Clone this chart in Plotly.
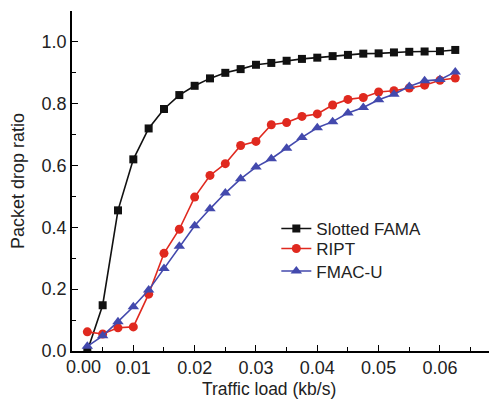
import plotly.graph_objects as go

# Traffic load (kb/s) sampled every 0.0025 kb/s
load = [0.0025 * i for i in range(1, 26)]

slotted_fama = [0.0, 0.148, 0.455, 0.62, 0.72, 0.783, 0.828, 0.858, 0.882, 0.90,
                0.912, 0.926, 0.932, 0.939, 0.945, 0.949, 0.954, 0.958, 0.962, 0.963,
                0.966, 0.968, 0.969, 0.970, 0.974]
ript = [0.062, 0.055, 0.075, 0.078, 0.184, 0.316, 0.394, 0.498, 0.568, 0.606,
        0.665, 0.678, 0.732, 0.739, 0.759, 0.767, 0.796, 0.814, 0.820, 0.838,
        0.842, 0.851, 0.860, 0.876, 0.883]
fmac_u = [0.015, 0.049, 0.095, 0.143, 0.197, 0.267, 0.339, 0.405, 0.46, 0.511,
          0.557, 0.595, 0.622, 0.656, 0.691, 0.722, 0.742, 0.770, 0.788, 0.813,
          0.831, 0.856, 0.874, 0.878, 0.903]

x_ticks = [0.01, 0.02, 0.03, 0.04, 0.05, 0.06]
x_minor = [0.005, 0.015, 0.025, 0.035, 0.045, 0.055, 0.065]
y_ticks = [0.0, 0.2, 0.4, 0.6, 0.8, 1.0]
y_minor = [0.1, 0.3, 0.5, 0.7, 0.9, 1.1]

FONT = "Liberation Sans, Arial, sans-serif"
TEXT = "#222222"
RED = "#e0291f"
BLUE = "#4349ad"

fig = go.Figure()
fig.add_trace(go.Scatter(x=load, y=slotted_fama, name="Slotted FAMA", mode="lines+markers",
                         line=dict(color="#111111", width=1.6),
                         marker=dict(symbol="square", size=8, color="#111111"),
                         legend="legend", showlegend=True))
fig.add_trace(go.Scatter(x=load, y=ript, name="RIPT", mode="lines+markers",
                         line=dict(color=RED, width=1.6),
                         marker=dict(symbol="circle", size=9, color=RED),
                         legend="legend2", showlegend=True))
fig.add_trace(go.Scatter(x=load, y=fmac_u, name="FMAC-U", mode="lines+markers",
                         line=dict(color=BLUE, width=1.6),
                         marker=dict(symbol="triangle-up", size=10, color=BLUE),
                         legend="legend3", showlegend=True))

axis_common = dict(showline=True, linecolor="black", linewidth=1.6,
                   ticks="inside", ticklen=6, tickwidth=1.4, tickcolor="black",
                   showgrid=False, zeroline=False, mirror=False,
                   tickfont=dict(family=FONT, size=18, color=TEXT))

fig.update_xaxes(range=[0, 0.068], tickvals=x_ticks, tickformat=".2f",
                 minor=dict(tickvals=x_minor, ticks="inside", ticklen=4,
                            tickwidth=1.4, tickcolor="black"),
                 **axis_common)
fig.update_yaxes(range=[0, 1.1], tickvals=y_ticks, tickformat=".1f",
                 minor=dict(tickvals=y_minor, ticks="inside", ticklen=4,
                            tickwidth=1.4, tickcolor="black"),
                 title=dict(text="Packet drop ratio", standoff=12,
                            font=dict(family=FONT, size=18, color=TEXT)),
                 **axis_common)

# x-axis title, set slightly left of the plot centre
fig.add_annotation(x=0.0322, y=0, xref="x", yref="paper", text="Traffic load (kb/s)",
                   showarrow=False, xanchor="center", yanchor="top", yshift=-26,
                   font=dict(family=FONT, size=17.5, color=TEXT))

# origin label sits just right of the y axis
fig.add_annotation(x=0, y=0, xref="x", yref="paper", text="0.00", showarrow=False,
                   xanchor="center", yanchor="top", xshift=11, yshift=-4,
                   font=dict(family=FONT, size=18, color=TEXT))

legend_style = dict(x=0.49, xanchor="left", yanchor="middle", visible=True,
                    bgcolor="rgba(0,0,0,0)",
                    font=dict(family=FONT, size=17, color=TEXT))

fig.update_layout(
    width=492, height=400,
    margin=dict(l=72, r=3, t=11, b=49),
    paper_bgcolor="white", plot_bgcolor="white",
    showlegend=True,
    legend=dict(y=0.359, **legend_style),
    legend2=dict(y=0.300, **legend_style),
    legend3=dict(y=0.234, **legend_style),
)

fig.write_html("out.html")
